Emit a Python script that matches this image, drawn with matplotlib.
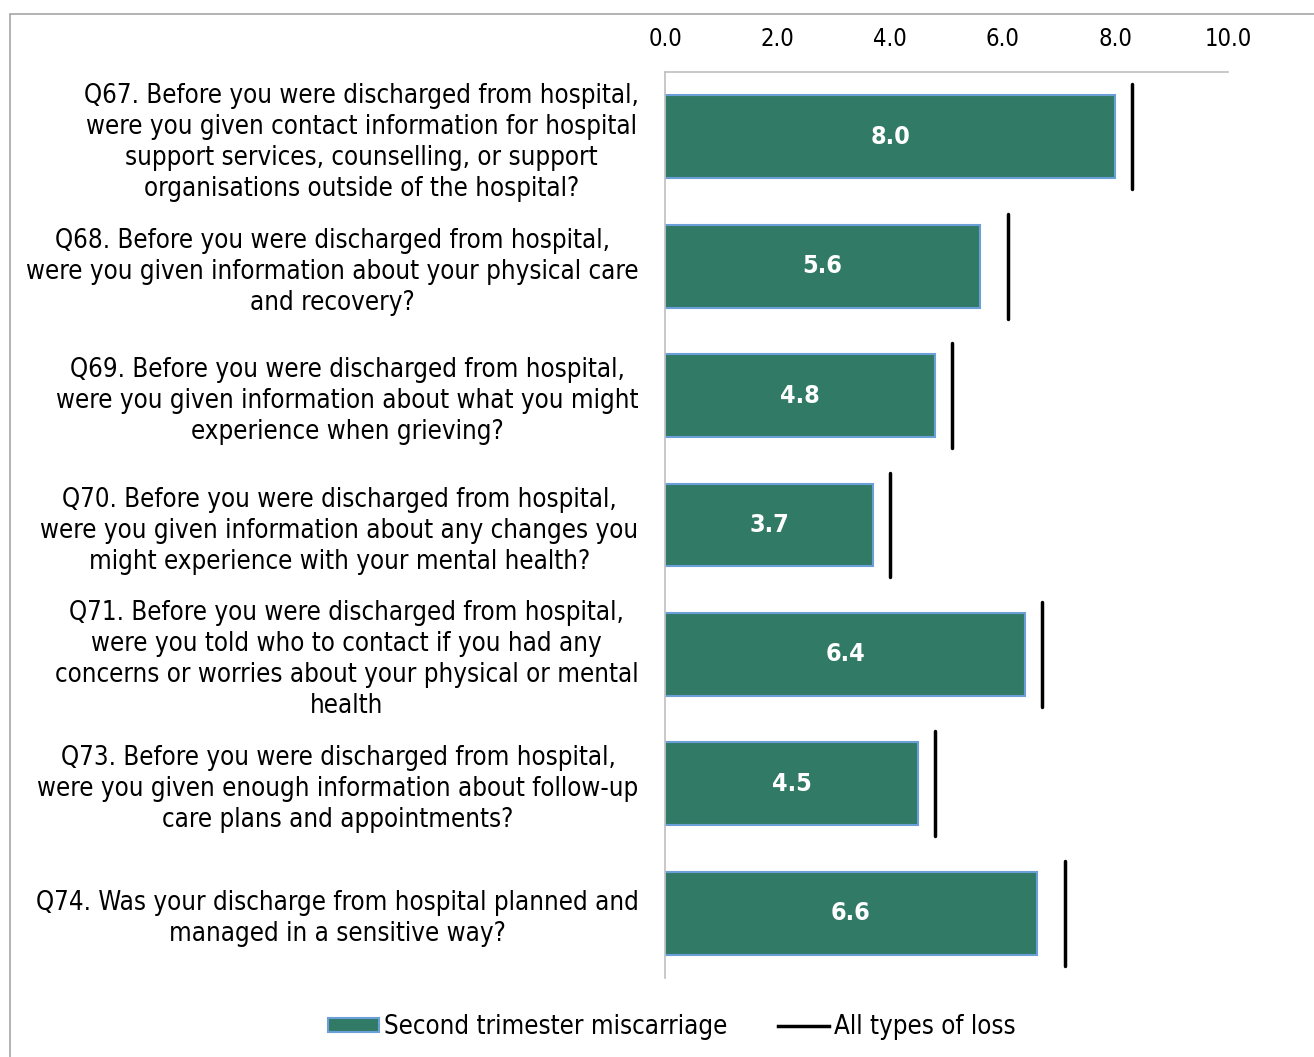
import matplotlib.pyplot as plt
from matplotlib.patches import Rectangle, Patch
from matplotlib.lines import Line2D

questions = [
    "Q67. Before you were discharged from hospital,\nwere you given contact information for hospital\nsupport services, counselling, or support\norganisations outside of the hospital?",
    "Q68. Before you were discharged from hospital,\nwere you given information about your physical care\nand recovery?",
    "Q69. Before you were discharged from hospital,\nwere you given information about what you might\nexperience when grieving?",
    "Q70. Before you were discharged from hospital,\nwere you given information about any changes you\nmight experience with your mental health?",
    "Q71. Before you were discharged from hospital,\nwere you told who to contact if you had any\nconcerns or worries about your physical or mental\nhealth",
    "Q73. Before you were discharged from hospital,\nwere you given enough information about follow-up\ncare plans and appointments?",
    "Q74. Was your discharge from hospital planned and\nmanaged in a sensitive way?",
]
second_trimester = [8.0, 5.6, 4.8, 3.7, 6.4, 4.5, 6.6]
all_types = [8.3, 6.1, 5.1, 4.0, 6.7, 4.8, 7.1]
xticks = [0, 2, 4, 6, 8, 10]

bar_color = "#317A66"
edge_color = "#6A9FD8"

plt.rcParams["font.family"] = "DejaVu Sans"
plt.rcParams["font.stretch"] = "condensed"

fig = plt.figure(figsize=(13.14, 10.57), dpi=100)
ax = fig.add_axes([665 / 1314, 1 - 978 / 1057, 563 / 1314, 906 / 1057])

ypos = list(range(len(questions)))
ax.barh(ypos, second_trimester, height=0.64, color=bar_color,
        edgecolor=edge_color, linewidth=1.5)
for y, v in zip(ypos, all_types):
    ax.plot([v, v], [y - 0.405, y + 0.405], color="black", linewidth=2.5,
            solid_capstyle="round")
for y, v in zip(ypos, second_trimester):
    ax.text(v / 2, y, "%.1f" % v, ha="center", va="center", color="white",
            fontsize=18, fontweight="bold")

ax.set_xlim(0, 10)
ax.set_ylim(len(questions) - 0.5, -0.5)
ax.set_xticks(xticks)
ax.set_xticklabels(["%.1f" % t for t in xticks], fontsize=17)
ax.xaxis.tick_top()
ax.tick_params(axis="x", length=0, pad=15)
ax.set_yticks(ypos)
ax.set_yticklabels(questions, fontsize=18.5, ha="right", multialignment="center",
                   linespacing=1.25)
ax.tick_params(axis="y", length=0, pad=19)

for side in ["right", "bottom"]:
    ax.spines[side].set_visible(False)
for side in ["top", "left"]:
    ax.spines[side].set_color("#BFBFBF")
    ax.spines[side].set_linewidth(1.2)

handles = [
    Patch(facecolor=bar_color, edgecolor=edge_color, linewidth=1.5,
          label="Second trimester miscarriage"),
    Line2D([], [], color="black", linewidth=2.5, label="All types of loss"),
]
fig.legend(handles=handles, loc="center", bbox_to_anchor=(672 / 1314, 1 - 1027 / 1057),
           ncol=2, frameon=False, fontsize=18.5, handlelength=2.0, handleheight=0.5,
           handletextpad=0.2, columnspacing=1.95)

# outer frame
fig.patches.append(Rectangle((10 / 1314, -0.1), 2, 1.1 - 14 / 1057, transform=fig.transFigure,
                             fill=False, edgecolor="#A6A6A6", linewidth=1.2))

fig.savefig("out.png", dpi=100)
